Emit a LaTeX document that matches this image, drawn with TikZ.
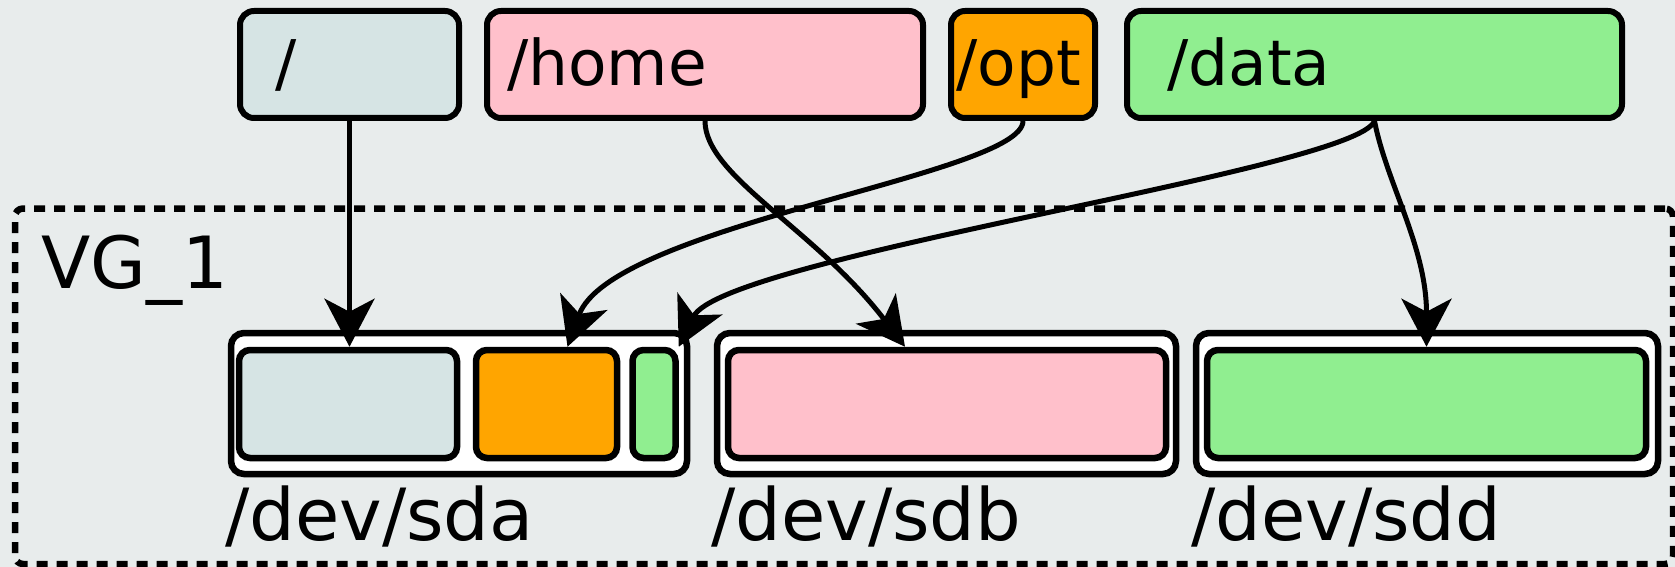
\documentclass[tikz,border=0pt]{standalone}
\usepackage{fontspec}
\setmainfont{DejaVu Sans}
\usetikzlibrary{arrows.meta}

\definecolor{canvas}{RGB}{232,236,236}
\definecolor{rootfill}{RGB}{214,228,228}
\definecolor{homefill}{RGB}{255,192,203}
\definecolor{optfill}{RGB}{255,165,0}
\definecolor{datafill}{RGB}{144,238,144}

\begin{document}
\begin{tikzpicture}[x=1pt,y=-1pt,
  mount/.style={draw=black, line width=6pt, rounded corners=14pt,
    minimum height=107pt, inner sep=0pt},
  disk/.style={draw=black, fill=white, line width=6.5pt, rounded corners=13pt,
    minimum height=141pt, inner sep=0pt},
  part/.style={draw=black, line width=6.5pt, rounded corners=11pt,
    minimum height=108pt, inner sep=0pt},
  group/.style={draw=black, line width=6.5pt, dash pattern=on 11pt off 9pt,
    rounded corners=8pt, inner sep=0pt},
  mountlbl/.style={anchor=base west, inner sep=0pt,
    font=\fontsize{63}{75}\selectfont},
  disklbl/.style={anchor=base west, inner sep=0pt,
    font=\fontsize{72}{86}\selectfont},
  conn/.style={line width=5pt,
    -{Stealth[length=48pt,width=50pt,inset=13pt]}},
]
% canvas
\fill[canvas] (0,0) rectangle (1675,567);
\useasboundingbox (0,0) rectangle (1675,567);
\clip (0,0) rectangle (1675,567);

% volume group frame
\node[group, minimum width=1658pt, minimum height=355.5pt] (vg) at (844,386.25) {};
\node[disklbl] (vglbl) at (41,288) {VG\_1};

% mount points
\node[mount, fill=rootfill, minimum width=219pt] (root) at (349.5,64.5) {};
\node[mount, fill=homefill, minimum width=436pt] (home) at (705,64.5) {};
\node[mount, fill=optfill,  minimum width=144pt] (opt)  at (1023,64.5) {};
\node[mount, fill=datafill, minimum width=495pt] (data) at (1374.5,64.5) {};

\node[mountlbl] (rootlbl) at (275,86) {/};
\node[mountlbl] (homelbl) at (507,86) {/home};
\node[mountlbl] (optlbl)  at (956,86) {/opt};
\node[mountlbl] (datalbl) at (1167,86) {/data};

% physical disks
\node[disk, minimum width=456pt] (sda) at (459,403.5) {};
\node[disk, minimum width=459pt] (sdb) at (946.5,403.5) {};
\node[disk, minimum width=462pt] (sdd) at (1427,403.5) {};

% partitions / physical extents
\node[part, fill=rootfill, minimum width=218pt] (sdaroot)   at (348,404) {};
\node[part, fill=optfill,  minimum width=141pt] (sdaorange) at (546.5,404) {};
\node[part, fill=datafill, minimum width=43pt]  (sdagreen)  at (654,404) {};
\node[part, fill=homefill, minimum width=438pt] (sdbpart)   at (947,404) {};
\node[part, fill=datafill, minimum width=439pt] (sddpart)   at (1426.5,404) {};

\node[disklbl] (sdalbl) at (225,540) {/dev/sda};
\node[disklbl] (sdblbl) at (711,540) {/dev/sdb};
\node[disklbl] (sddlbl) at (1191,540) {/dev/sdd};

% mappings
\draw[conn] (root.south) -- (root.south |- sdaroot.north);
\draw[conn] (home.south) .. controls +(0,55) and +(-90,-118) .. ([xshift=-42pt]sdbpart.north);
\draw[conn] (opt.south) .. controls +(0,54) and +(44,-122) .. ([xshift=21pt]sdaorange.north);
\draw[conn] (data.south) .. controls +(-19,49) and +(44,-90) .. (sdagreen.north east);
\draw[conn] (data.south) .. controls +(12,62) and +(0,-100) .. (sddpart.north);
\end{tikzpicture}
\end{document}
